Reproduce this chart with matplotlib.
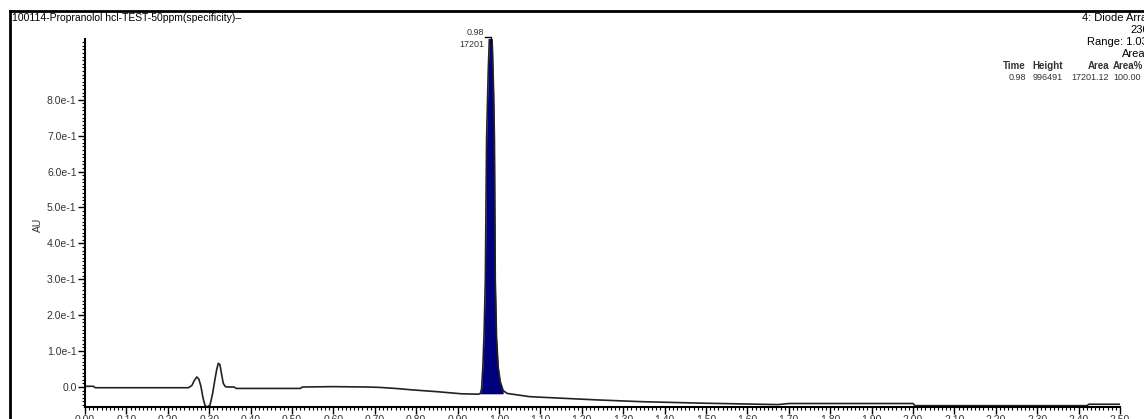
import numpy as np
import matplotlib
matplotlib.use('Agg')
import matplotlib.pyplot as plt
from matplotlib.ticker import MultipleLocator

plt.rcParams['font.family'] = ['Liberation Sans', 'DejaVu Sans']

# chromatogram trace (time in min, AU)
time = [0.00, 0.02, 0.025, 0.25, 0.258, 0.264, 0.270, 0.275, 0.280, 0.285,
        0.290, 0.296, 0.302, 0.308, 0.313, 0.318, 0.322, 0.326, 0.330, 0.334,
        0.339, 0.345, 0.36, 0.365, 0.52, 0.525, 0.60, 0.68, 0.71, 0.75,
        0.79, 0.85, 0.91, 0.95, 0.955, 0.958, 0.961, 0.964, 0.967, 0.970,
        0.974, 0.977, 0.980, 0.984, 0.987, 0.989, 0.991, 0.994, 0.998, 1.003,
        1.010, 1.02, 1.075, 1.147, 1.237, 1.348, 1.49, 1.674, 1.70, 2.00,
        2.005, 2.42, 2.425, 2.50]
au = [0.002, 0.002, -0.002, -0.002, 0.004, 0.018, 0.028, 0.022, 0.002, -0.030,
      -0.052, -0.056, -0.050, -0.020, 0.015, 0.048, 0.066, 0.062, 0.035, 0.010,
      0.001, 0.000, 0.000, -0.004, -0.004, 0.000, 0.001, 0.000, -0.001, -0.004,
      -0.008, -0.013, -0.019, -0.020, -0.018, -0.005, 0.056, 0.150, 0.300, 0.690,
      0.880, 0.980, 0.996, 0.950, 0.820, 0.690, 0.300, 0.140, 0.056, 0.015,
      -0.010, -0.018, -0.027, -0.031, -0.036, -0.041, -0.045, -0.049, -0.046, -0.046,
      -0.052, -0.052, -0.048, -0.048]

peak_start, peak_end = 0.955, 1.012
peak_time, peak_area, peak_height, peak_area_pct = '0.98', '17201.12', '996491', '100.00'

ytick_vals = [0.0, 0.1, 0.2, 0.3, 0.4, 0.5, 0.6, 0.7, 0.8]
ytick_labels = ['0.0', '1.0e-1', '2.0e-1', '3.0e-1', '4.0e-1', '5.0e-1', '6.0e-1', '7.0e-1', '8.0e-1']
xtick_vals = [round(0.1 * i, 2) for i in range(26)]
xtick_labels = ['%.2f' % v for v in xtick_vals]

W, H = 1144, 419
fig = plt.figure(figsize=(W / 100, H / 100), dpi=100)
ax = fig.add_axes([85 / W, 1 - 407 / H, (1120 - 85) / W, (407 - 39) / H])

t = np.array(time)
a = np.array(au)
ax.plot(t, a, color='#222222', lw=1.2)
mask = (t >= peak_start) & (t <= peak_end)
ax.fill_between(t[mask], a[mask], -0.019, color='#00007f', lw=0)

ax.set_xlim(0, 2.5)
ax.set_ylim(-0.0557, 0.969)
for s in ['top', 'right']:
    ax.spines[s].set_visible(False)
for s in ['left', 'bottom']:
    ax.spines[s].set_linewidth(1.5)

ax.set_xticks(xtick_vals)
ax.set_xticklabels(xtick_labels)
ax.set_yticks(ytick_vals)
ax.set_yticklabels(ytick_labels)
ax.xaxis.set_minor_locator(MultipleLocator(0.01))
ax.yaxis.set_minor_locator(MultipleLocator(0.01))
ax.tick_params(which='major', length=5, width=1, labelsize=7.5, labelcolor='#333333', pad=1)
ax.tick_params(which='minor', length=2.5, width=0.8)
ax.set_ylabel('AU', fontsize=7.5, color='#333333')
ax.yaxis.set_label_coords(-0.041, 0.495)

# peak label with small bracket
ax.text(0.965, 0.988, peak_time, fontsize=6.5, ha='right', va='center', color='#333333')
ax.text(0.965, 0.953, '17201', fontsize=6.5, ha='right', va='center', color='#333333')
ax.plot([0.966, 0.98, 0.98], [0.975, 0.975, 0.96], color='black', lw=1, clip_on=False)

# page frame
fig.add_artist(plt.Line2D([10 / W, 1], [1 - 11 / H, 1 - 11 / H], color='black', lw=2))
fig.add_artist(plt.Line2D([10 / W, 10 / W], [0, 1 - 11 / H], color='black', lw=2))

fig.text(12 / W, 1 - 18 / H, '100114-Propranolol hcl-TEST-50ppm(specificity)\u2013', fontsize=7.5, va='center')
fig.text(1082 / W, 1 - 18 / H, '4: Diode Array', fontsize=8, va='center')
fig.text(1130 / W, 1 - 30 / H, '230', fontsize=8, va='center')
fig.text(1087 / W, 1 - 42 / H, 'Range: 1.035', fontsize=8, va='center')
fig.text(1122 / W, 1 - 54 / H, 'Area', fontsize=8, va='center')

hy, vy = 1 - 66 / H, 1 - 78 / H
fig.text(1026 / W, hy, 'Time', fontsize=7, ha='right', va='center', weight='bold', color='#333333')
fig.text(1063 / W, hy, 'Height', fontsize=7, ha='right', va='center', weight='bold', color='#333333')
fig.text(1109 / W, hy, 'Area', fontsize=7, ha='right', va='center', weight='bold', color='#333333')
fig.text(1113 / W, hy, 'Area%', fontsize=7, ha='left', va='center', weight='bold', color='#333333')
fig.text(1026 / W, vy, peak_time, fontsize=6.5, ha='right', va='center', color='#333333')
fig.text(1063 / W, vy, peak_height, fontsize=6.5, ha='right', va='center', color='#333333')
fig.text(1109 / W, vy, peak_area, fontsize=6.5, ha='right', va='center', color='#333333')
fig.text(1113 / W, vy, peak_area_pct, fontsize=6.5, ha='left', va='center', color='#333333')

fig.savefig('out.png', dpi=100)
